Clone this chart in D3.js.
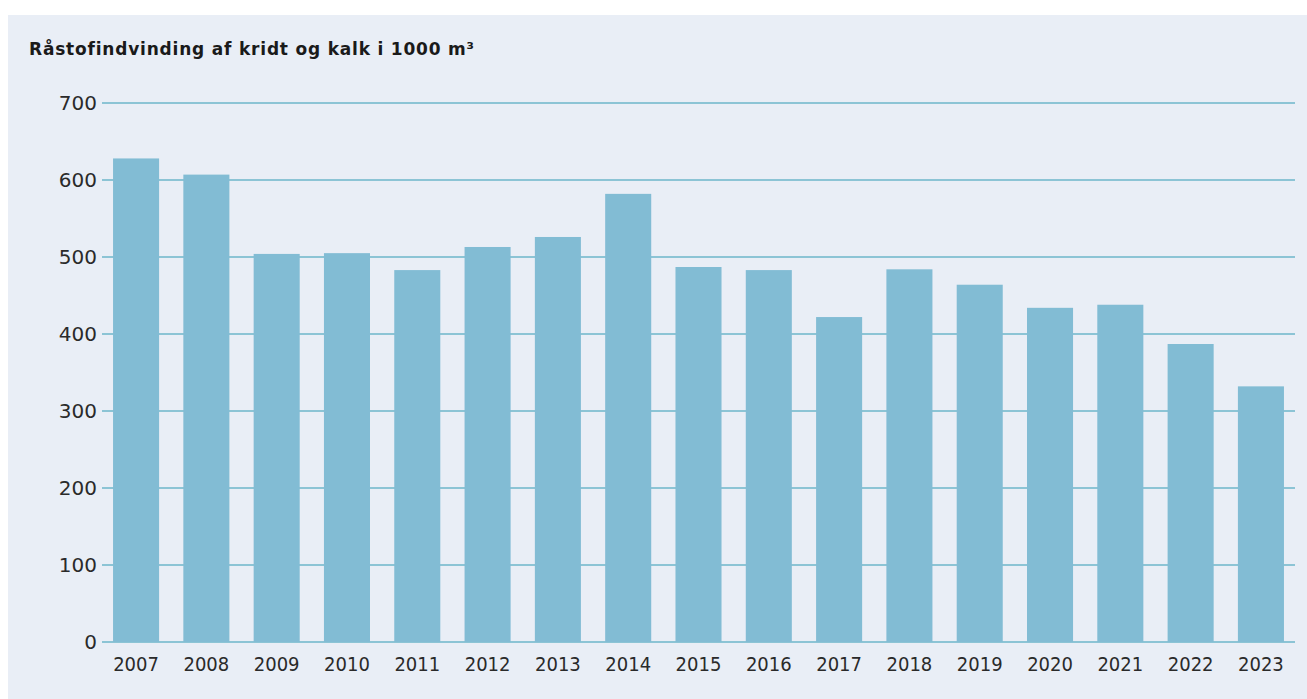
<!DOCTYPE html>
<html>
<head>
<meta charset="utf-8">
<script src="https://cdn.jsdelivr.net/npm/d3@7/dist/d3.min.js"></script>
<style>
  html, body { margin: 0; padding: 0; background: #ffffff; }
  svg { display: block; }
</style>
</head>
<body>
<svg id="chart" width="1307" height="699"></svg>
<script>
// Råstofindvinding af kridt og kalk, 1000 m³ per år
const years = ["2007","2008","2009","2010","2011","2012","2013","2014","2015",
               "2016","2017","2018","2019","2020","2021","2022","2023"];
const values = [628, 607, 504, 505, 483, 513, 526, 582, 487,
                483, 422, 484, 464, 434, 438, 387, 332];
const yTicks = [0, 100, 200, 300, 400, 500, 600, 700];
const title = "Råstofindvinding af kridt og kalk i 1000 m³";

const svg = d3.select("#chart");
const W = 1307, H = 699;

// panel background
svg.append("rect")
  .attr("x", 8).attr("y", 15)
  .attr("width", W - 8).attr("height", H - 15)
  .attr("fill", "#e9eef6");

const plot = { left: 102, right: 1295, top: 103, bottom: 642 };

const x = d3.scaleBand()
  .domain(years)
  .range([plot.left, plot.right])
  .paddingInner(0.345)
  .paddingOuter(0.157);

const y = d3.scaleLinear()
  .domain([0, 700])
  .range([plot.bottom, plot.top]);

// horizontal grid lines
svg.append("g")
  .selectAll("line")
  .data(yTicks)
  .join("line")
  .attr("x1", plot.left).attr("x2", plot.right)
  .attr("y1", d => y(d)).attr("y2", d => y(d))
  .attr("stroke", "#6db6ca")
  .attr("stroke-width", 1.6);

// bars
svg.append("g")
  .selectAll("rect")
  .data(values)
  .join("rect")
  .attr("x", (d, i) => x(years[i]))
  .attr("width", x.bandwidth())
  .attr("y", d => y(d))
  .attr("height", d => y(0) - y(d))
  .attr("fill", "#82bcd4");

// y-axis labels
svg.append("g")
  .selectAll("text")
  .data(yTicks)
  .join("text")
  .attr("x", plot.left - 5)
  .attr("y", d => y(d))
  .attr("dy", "0.36em")
  .attr("text-anchor", "end")
  .attr("font-family", "'DejaVu Sans', Verdana, sans-serif")
  .attr("font-size", 20)
  .attr("fill", "#2a2a2a")
  .text(d => d);

// x-axis labels
svg.append("g")
  .selectAll("text")
  .data(years)
  .join("text")
  .attr("x", d => x(d) + x.bandwidth() / 2)
  .attr("y", 671)
  .attr("text-anchor", "middle")
  .attr("font-family", "'DejaVu Sans Condensed', 'DejaVu Sans', sans-serif")
  .attr("font-size", 20)
  .attr("fill", "#2a2a2a")
  .text(d => d);

// title
svg.append("text")
  .attr("x", 29)
  .attr("y", 55)
  .attr("font-family", "'DejaVu Sans', Verdana, sans-serif")
  .attr("font-weight", "bold")
  .attr("font-size", 17)
  .attr("letter-spacing", 0.8)
  .attr("fill", "#1a1a1a")
  .text(title);
</script>
</body>
</html>
